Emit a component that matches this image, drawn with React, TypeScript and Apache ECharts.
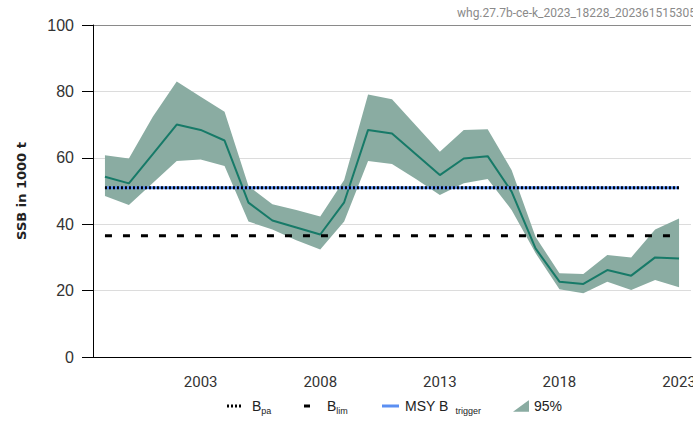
import React, { useEffect, useRef } from 'react';
import * as echarts from 'echarts';

// Assessment years
const years = [
  '1999', '2000', '2001', '2002', '2003', '2004', '2005', '2006', '2007', '2008',
  '2009', '2010', '2011', '2012', '2013', '2014', '2015', '2016', '2017', '2018',
  '2019', '2020', '2021', '2022', '2023',
];
// Spawning stock biomass (1000 t) and its 95% confidence bounds
const ssb = [
  54.3, 52.3, 61.1, 70.0, 68.4, 65.2, 46.5, 41.1, 39.0, 36.9,
  46.6, 68.4, 67.3, 61.1, 54.8, 59.8, 60.5, 49.8, 32.7, 22.7,
  22.0, 26.2, 24.5, 30.0, 29.7,
];
const ssbHigh = [
  60.8, 59.8, 72.4, 83.0, 78.4, 73.9, 51.5, 46.0, 44.3, 42.3,
  53.3, 79.1, 77.6, 69.7, 61.8, 68.4, 68.6, 56.3, 36.2, 25.2,
  25.0, 30.7, 30.0, 38.4, 41.7,
];
const ssbLow = [
  48.5, 45.8, 52.4, 59.0, 59.5, 57.5, 40.8, 38.4, 35.2, 32.4,
  40.8, 59.0, 58.1, 53.6, 48.8, 52.3, 53.6, 44.3, 31.3, 20.4,
  19.2, 22.7, 20.2, 23.2, 21.0,
];
// Reference points (1000 t)
const bpa = 51;
const blim = 36.5;
const msyBtrigger = 51;
// Years carrying a tick label
const labelYears = ['2003', '2008', '2013', '2018', '2023'];
const stockCode = 'whg.27.7b-ce-k_2023_18228_2023615153050';

const BAND = '#8aaca2';
const LINE = '#177a68';
const BLUE = '#5b8ff2';

const legendNames: Record<string, string> = {
  Bpa: '{b|B}{s|pa}',
  Blim: '{b|B}{s|lim}',
  'MSY Btrigger': '{b|MSY B}{t|trigger}',
  '95%': '{b|95%}',
};

function legendRich(padLeft: number) {
  return {
    b: { fontSize: 14, fontFamily: 'Liberation Sans', color: '#222', lineHeight: 18, padding: [0, 0, 0, padLeft] },
    s: { fontSize: 9, fontFamily: 'Liberation Sans', color: '#222', lineHeight: 18, verticalAlign: 'bottom' },
    t: { fontSize: 9, fontFamily: 'Liberation Sans', color: '#222', lineHeight: 18, verticalAlign: 'bottom', padding: [0, 0, 0, 7] },
  };
}

function makeLegend(name: string, left: number, icon: string, w: number, h: number, color: string, padLeft: number) {
  return {
    left,
    top: 399,
    padding: 0,
    itemWidth: w,
    itemHeight: h,
    selectedMode: false,
    data: [{ name, icon, itemStyle: { color, borderWidth: 0 } }],
    formatter: (n: string) => legendNames[n] ?? n,
    textStyle: { rich: legendRich(padLeft) },
  };
}

const constant = (v: number) => years.map(() => v);

export default function App() {
  const ref = useRef<HTMLDivElement>(null);

  useEffect(() => {
    if (!ref.current) return;
    const chart = echarts.init(ref.current, null, { renderer: 'svg' });
    const bandWidth = ssbHigh.map((h, i) => +(h - ssbLow[i]).toFixed(2));

    chart.setOption({
      animation: false,
      grid: {
        left: 93,
        width: 598,
        top: 25,
        height: 332,
        containLabel: false,
        outerBoundsMode: 'none',
      },
      graphic: [
        {
          type: 'text',
          left: 457,
          top: 7,
          style: { text: stockCode, fill: '#8a8a8a', font: '12px Roboto' },
        },
      ],
      legend: [
        makeLegend('Bpa', 227, 'path://M0,0h2v3h-2z M4,0h2v3h-2z M8,0h2v3h-2z M12,0h2v3h-2z', 14, 3, '#000', 6),
        makeLegend('Blim', 304, 'path://M0,0h6v3h-6z', 6, 3, '#000', 12),
        makeLegend('MSY Btrigger', 382, 'path://M0,0h17v3h-17z', 17, 3, BLUE, 1),
        makeLegend('95%', 513, 'path://M0,12 L15,1 Q16,0 16,2 L16,12 Z', 16, 12, BAND, 0),
      ],
      xAxis: {
        type: 'category',
        data: years,
        boundaryGap: true,
        axisLine: { lineStyle: { color: '#000', width: 1 } },
        axisTick: {
          alignWithLabel: true,
          length: 8,
          interval: (i: number) => labelYears.includes(years[i]),
          lineStyle: { color: '#000' },
        },
        axisLabel: {
          interval: (i: number) => labelYears.includes(years[i]),
          fontSize: 15,
          fontFamily: 'Roboto',
          color: '#333',
          margin: 17,
        },
        splitLine: { show: false },
      },
      yAxis: {
        type: 'value',
        min: 0,
        max: 100,
        interval: 20,
        name: 'SSB in 1000 t',
        nameLocation: 'middle',
        nameGap: 65,
        nameTextStyle: { fontSize: 13, fontWeight: 'bold', fontFamily: 'DejaVu Sans', color: '#222' },
        axisLine: { show: true, lineStyle: { color: '#000', width: 1 } },
        axisTick: { show: true, length: 11, lineStyle: { color: '#000' } },
        axisLabel: { fontSize: 16, fontFamily: 'Liberation Sans', color: '#333', margin: 19 },
        splitLine: {
          show: true,
          lineStyle: { color: ['#dcdcdc', '#dcdcdc', '#dcdcdc', '#dcdcdc', '#dcdcdc', '#8a8a8a'], width: 1 },
        },
      },
      series: [
        {
          name: 'ciLow',
          type: 'line',
          data: ssbLow,
          stack: 'ci',
          symbol: 'none',
          silent: true,
          lineStyle: { opacity: 0 },
        },
        {
          name: '95%',
          type: 'line',
          data: bandWidth,
          stack: 'ci',
          symbol: 'none',
          silent: true,
          color: BAND,
          lineStyle: { opacity: 0 },
          areaStyle: { color: BAND, opacity: 1 },
        },
        {
          name: 'SSB',
          type: 'line',
          data: ssb,
          symbol: 'none',
          color: LINE,
          lineStyle: { color: LINE, width: 2 },
        },
        {
          name: 'MSY Btrigger',
          type: 'line',
          data: constant(msyBtrigger),
          symbol: 'none',
          color: BLUE,
          lineStyle: { color: BLUE, width: 3 },
        },
        {
          name: 'Bpa',
          type: 'line',
          data: constant(bpa),
          symbol: 'none',
          color: '#000',
          lineStyle: { color: '#000', width: 3, type: [2, 2] },
        },
        {
          name: 'Blim',
          type: 'line',
          data: constant(blim),
          symbol: 'none',
          color: '#000',
          lineStyle: { color: '#000', width: 3, type: [7, 11] },
        },
      ],
    });

    return () => chart.dispose();
  }, []);

  return (
    <div
      ref={ref}
      style={{ position: 'absolute', left: 0, top: 0, width: 693, height: 421, background: '#fff' }}
    />
  );
}
